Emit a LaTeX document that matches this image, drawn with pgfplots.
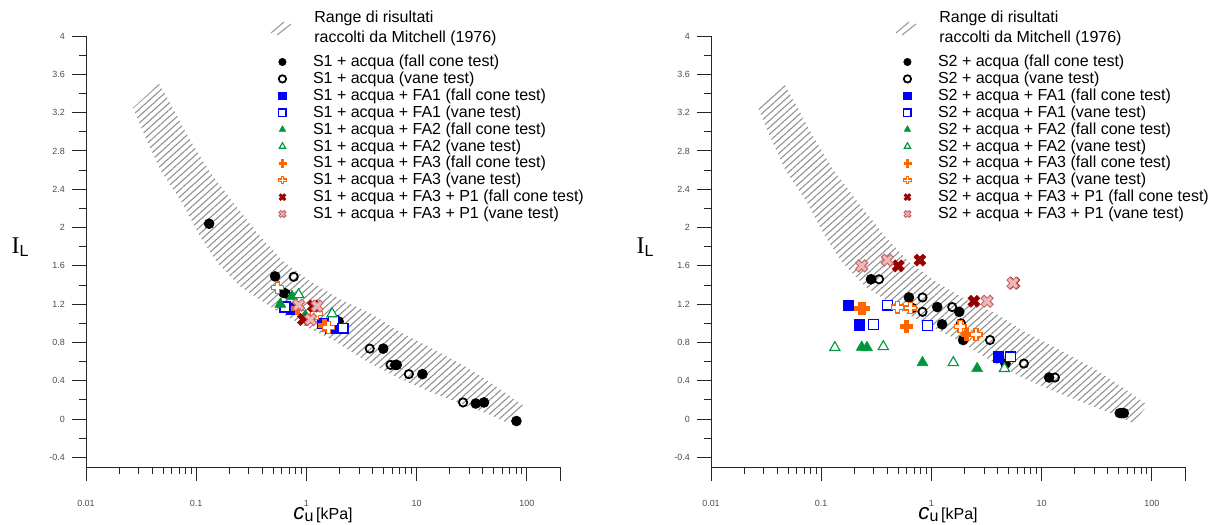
\documentclass[border=0pt]{standalone}
\usepackage{fontspec}
\setmainfont{Liberation Sans}
\newfontfamily\serifI{Liberation Serif}
\usepackage{pgfplots}
\pgfplotsset{compat=1.18}
\usetikzlibrary{patterns.meta}

\definecolor{cblue}{RGB}{0,0,255}
\definecolor{cgreen}{RGB}{0,150,60}
\definecolor{corange}{RGB}{255,102,0}
\definecolor{cdred}{RGB}{153,0,0}
\definecolor{clred}{RGB}{200,100,100}
\definecolor{clredfill}{RGB}{235,185,185}
\definecolor{hatchc}{RGB}{140,140,140}

\def\plusshapepath{%
 \pgfpathmoveto{\pgfqpoint{-0.34\pgfplotmarksize}{\pgfplotmarksize}}%
 \pgfpathlineto{\pgfqpoint{0.34\pgfplotmarksize}{\pgfplotmarksize}}%
 \pgfpathlineto{\pgfqpoint{0.34\pgfplotmarksize}{0.34\pgfplotmarksize}}%
 \pgfpathlineto{\pgfqpoint{\pgfplotmarksize}{0.34\pgfplotmarksize}}%
 \pgfpathlineto{\pgfqpoint{\pgfplotmarksize}{-0.34\pgfplotmarksize}}%
 \pgfpathlineto{\pgfqpoint{0.34\pgfplotmarksize}{-0.34\pgfplotmarksize}}%
 \pgfpathlineto{\pgfqpoint{0.34\pgfplotmarksize}{-\pgfplotmarksize}}%
 \pgfpathlineto{\pgfqpoint{-0.34\pgfplotmarksize}{-\pgfplotmarksize}}%
 \pgfpathlineto{\pgfqpoint{-0.34\pgfplotmarksize}{-0.34\pgfplotmarksize}}%
 \pgfpathlineto{\pgfqpoint{-\pgfplotmarksize}{-0.34\pgfplotmarksize}}%
 \pgfpathlineto{\pgfqpoint{-\pgfplotmarksize}{0.34\pgfplotmarksize}}%
 \pgfpathlineto{\pgfqpoint{-0.34\pgfplotmarksize}{0.34\pgfplotmarksize}}%
 \pgfpathclose}
\pgfdeclareplotmark{plusshape}{\plusshapepath\pgfusepathqfillstroke}
\pgfdeclareplotmark{crossshape}{\pgftransformrotate{45}\plusshapepath\pgfusepathqfillstroke}

\pgfplotstableread{
x y
0.131 2.04
0.52 1.49
0.62 1.32
1.96 1.02
4.98 0.736
6.4 0.566
6.6 0.566
11.3 0.47
34.4 0.163
40.9 0.174
80.5 -0.02
}\Afc
\pgfplotstableread{
x y
0.767 1.486
0.65 1.31
3.76 0.736
5.8 0.566
8.5 0.47
26.4 0.174
}\Avt
\pgfplotstableread{
x y
0.74 1.15
1.39 1.0
1.66 0.955
}\Bfc
\pgfplotstableread{
x y
1.75 1.03
0.64 1.17
2.15 0.95
}\Bvt
\pgfplotstableread{
x y
0.58 1.20
0.74 1.28
0.98 1.08
}\Cfc
\pgfplotstableread{
x y
0.85 1.30
1.71 1.10
}\Cvt
\pgfplotstableread{
x y
0.82 1.16
1.45 0.98
}\Dfc
\pgfplotstableread{
x y
0.55 1.37
1.23 1.10
1.58 0.96
}\Dvt
\pgfplotstableread{
x y
0.94 1.04
1.16 1.18
}\Efc
\pgfplotstableread{
x y
0.85 1.19
1.25 1.18
1.09 1.04
}\Evt

\pgfplotstableread{
x y
0.283 1.46
0.625 1.27
0.67 1.16
1.13 1.17
1.79 1.12
1.25 0.99
1.94 0.826
4.7 0.58
11.7 0.434
53 0.0625
55.7 0.0625
}\Pfc
\pgfplotstableread{
x y
0.335 1.46
0.83 1.27
0.83 1.12
1.545 1.17
1.85 1.0
3.4 0.826
6.9 0.58
13.2 0.434
51 0.0625
}\Pvt
\pgfplotstableread{
x y
0.176 1.19
0.221 0.986
4.03 0.65
}\Qfc
\pgfplotstableread{
x y
0.398 1.19
0.297 0.986
0.916 0.976
5.2 0.65
}\Qvt
\pgfplotstableread{
x y
0.233 0.75
0.26 0.747
0.83 0.59
2.6 0.528
}\Rfc
\pgfplotstableread{
x y
0.133 0.747
0.366 0.757
1.58 0.59
4.6 0.528
}\Rvt
\pgfplotstableread{
x y
0.228 1.16
0.242 1.16
0.596 0.966
2.09 0.885
}\Sfc
\pgfplotstableread{
x y
0.49 1.17
0.65 1.16
1.82 0.966
2.54 0.885
}\Svt
\pgfplotstableread{
x y
0.5 1.60
0.787 1.66
2.43 1.23
5.6 1.42
}\Tfc
\pgfplotstableread{
x y
0.233 1.60
0.398 1.66
3.2 1.23
5.5 1.42
}\Tvt

\newcommand{\bandcoords}{(0.0461,3.5) (0.058,3.302) (0.0846,2.948) (0.1285,2.604) (0.217,2.26) (0.3818,1.906) (0.618,1.646) (1.087,1.4375) (2.038,1.25) (3.818,1.104) (7.153,0.906) (14.27,0.729) (28.48,0.542) (52.25,0.344) (91.97,0.146) (67.2,-0.042) (47.07,0.042) (29.08,0.135) (14.27,0.271) (7.153,0.417) (3.512,0.604) (1.76,0.823) (0.979,0.969) (0.545,1.125) (0.2512,1.385) (0.1552,1.635) (0.1087,1.906) (0.0746,2.26) (0.0471,2.604) (0.0344,2.948) (0.02676,3.25) (0.0461,3.5)}

\newcommand{\ylab}{{\serifI\fontsize{15}{15}\selectfont I}\raisebox{-2pt}{\fontsize{10}{10}\selectfont L}}
\newcommand{\xlab}{{\fontsize{14}{14}\selectfont\itshape c}\raisebox{-1.5pt}{\fontsize{10}{10}\selectfont u}\,{\fontsize{10}{10}\selectfont [kPa]}}
\newcommand{\extras}{%
 \node at (rel axis cs:-0.139,0.51) {\ylab};
 \node at (rel axis cs:0.5,-0.111) {\xlab};
 \node[anchor=base west, inner sep=0pt, align=left, font=\fontsize{10}{12.5}\selectfont] at (rel axis cs:0.481,0.985) {Range di risultati\\raccolti da Mitchell (1976)};
 \draw[hatchc!85, line width=0.7pt] (rel axis cs:0.3903,1.0070) -- (rel axis cs:0.4177,1.0325)
   (rel axis cs:0.4030,1.0023) -- (rel axis cs:0.4325,1.0278);
}

\pgfplotsset{
 every axis/.append style={
  scale only axis, width=296.25pt, height=269.375pt, clip=false,
  xmin=0.01, xmax=200, ymin=-0.5, ymax=4,
  axis x line=bottom, axis y line=left,
  axis line style={-, line width=0.6pt, black!85},
  xtick={0.01,0.1,1,10,100}, xticklabels={0.01,0.1,1,10,100},
  extra x ticks={200}, extra x tick labels={},
  minor xtick={0.02,0.03,0.04,0.05,0.06,0.07,0.08,0.09,0.2,0.3,0.4,0.5,0.6,0.7,0.8,0.9,2,3,4,5,6,7,8,9,20,30,40,50,60,70,80,90},
  ytick={-0.4,0,0.4,0.8,1.2,1.6,2,2.4,2.8,3.2,3.6,4},
  yticklabels={-0.4,0,0.4,0.8,1.2,1.6,2,2.4,2.8,3.2,3.6,4},
  minor ytick={-0.2,0.2,0.6,1.0,1.4,1.8,2.2,2.6,3.0,3.4,3.8},
  tick align=outside, major tick length=8.75pt, minor tick length=4.4pt,
  tick style={black!85, line width=0.6pt},
  ticklabel style={font=\fontsize{5.6}{6}\selectfont, text=black!70},
  xticklabel style={yshift=-8.5pt},
  yticklabel style={xshift=-1pt},
  /pgf/number format/assume math mode=true,
  legend cell align=left,
  legend style={at={(0.4067,0.9578)}, anchor=north west, draw=none, fill=none,
    inner sep=0pt, outer sep=0pt, row sep=0.81pt, column sep=16.3pt,
    nodes={inner sep=0.5pt, font=\fontsize{10}{12.5}\selectfont}},
  legend image post style={mark size=2.3pt},
 },
}

\begin{document}
\begin{tikzpicture}
\path[use as bounding box] (0,0) rectangle (755.625pt,327.5pt);
\begin{axis}[xmode=log, at={(53.75pt,35.625pt)}, anchor=south west]
\addplot[draw=none, forget plot, pattern={Lines[angle=42,distance=3.2pt,line width=0.65pt]}, pattern color=hatchc] coordinates {\bandcoords};
\addplot[only marks, mark=*, mark size=3.1pt, mark options={fill=black, draw=black}] table {\Afc}; \addlegendentry{S1 + acqua (fall cone test)}
\addplot[only marks, mark=o, mark size=2.6pt, mark options={fill=white, draw=black, line width=1.1pt}] table {\Avt}; \addlegendentry{S1 + acqua (vane test)}
\addplot[only marks, mark=square*, mark size=3.3pt, mark options={fill=cblue, draw=cblue}] table {\Bfc}; \addlegendentry{S1 + acqua + FA1 (fall cone test)}
\addplot[only marks, mark=square*, mark size=3.1pt, mark options={fill=white, draw=cblue, line width=0.8pt}] table {\Bvt}; \addlegendentry{S1 + acqua + FA1 (vane test)}
\addplot[only marks, mark=triangle*, mark size=3.9pt, mark options={fill=cgreen, draw=cgreen}] table {\Cfc}; \addlegendentry{S1 + acqua + FA2 (fall cone test)}
\addplot[only marks, mark=triangle*, mark size=3.7pt, mark options={fill=white, draw=cgreen, line width=0.7pt}] table {\Cvt}; \addlegendentry{S1 + acqua + FA2 (vane test)}
\addplot[only marks, mark=plusshape, mark size=3.7pt, mark options={fill=corange, draw=corange, line width=0.3pt}] table {\Dfc}; \addlegendentry{S1 + acqua + FA3 (fall cone test)}
\addplot[only marks, mark=plusshape, mark size=3.7pt, mark options={fill=white, draw=corange, line width=0.7pt}] table {\Dvt}; \addlegendentry{S1 + acqua + FA3 (vane test)}
\addplot[only marks, mark=crossshape, mark size=4pt, mark options={fill=cdred, draw=cdred, line width=0.3pt}] table {\Efc}; \addlegendentry{S1 + acqua + FA3 + P1 (fall cone test)}
\addplot[only marks, mark=crossshape, mark size=4pt, mark options={fill=clredfill, draw=clred, line width=0.6pt}] table {\Evt}; \addlegendentry{S1 + acqua + FA3 + P1 (vane test)}
\extras
\end{axis}
\begin{axis}[xmode=log, at={(444.375pt,35.625pt)}, anchor=south west]
\addplot[draw=none, forget plot, pattern={Lines[angle=42,distance=3.2pt,line width=0.65pt]}, pattern color=hatchc] coordinates {\bandcoords};
\addplot[only marks, mark=*, mark size=3.1pt, mark options={fill=black, draw=black}] table {\Pfc}; \addlegendentry{S2 + acqua (fall cone test)}
\addplot[only marks, mark=o, mark size=2.6pt, mark options={fill=white, draw=black, line width=1.1pt}] table {\Pvt}; \addlegendentry{S2 + acqua (vane test)}
\addplot[only marks, mark=square*, mark size=3.3pt, mark options={fill=cblue, draw=cblue}] table {\Qfc}; \addlegendentry{S2 + acqua + FA1 (fall cone test)}
\addplot[only marks, mark=square*, mark size=3.1pt, mark options={fill=white, draw=cblue, line width=0.8pt}] table {\Qvt}; \addlegendentry{S2 + acqua + FA1 (vane test)}
\addplot[only marks, mark=triangle*, mark size=3.9pt, mark options={fill=cgreen, draw=cgreen}] table {\Rfc}; \addlegendentry{S2 + acqua + FA2 (fall cone test)}
\addplot[only marks, mark=triangle*, mark size=3.7pt, mark options={fill=white, draw=cgreen, line width=0.7pt}] table {\Rvt}; \addlegendentry{S2 + acqua + FA2 (vane test)}
\addplot[only marks, mark=plusshape, mark size=3.7pt, mark options={fill=corange, draw=corange, line width=0.3pt}] table {\Sfc}; \addlegendentry{S2 + acqua + FA3 (fall cone test)}
\addplot[only marks, mark=plusshape, mark size=3.7pt, mark options={fill=white, draw=corange, line width=0.7pt}] table {\Svt}; \addlegendentry{S2 + acqua + FA3 (vane test)}
\addplot[only marks, mark=crossshape, mark size=4pt, mark options={fill=cdred, draw=cdred, line width=0.3pt}] table {\Tfc}; \addlegendentry{S2 + acqua + FA3 + P1 (fall cone test)}
\addplot[only marks, mark=crossshape, mark size=4pt, mark options={fill=clredfill, draw=clred, line width=0.6pt}] table {\Tvt}; \addlegendentry{S2 + acqua + FA3 + P1 (vane test)}
\extras
\end{axis}
\end{tikzpicture}
\end{document}
